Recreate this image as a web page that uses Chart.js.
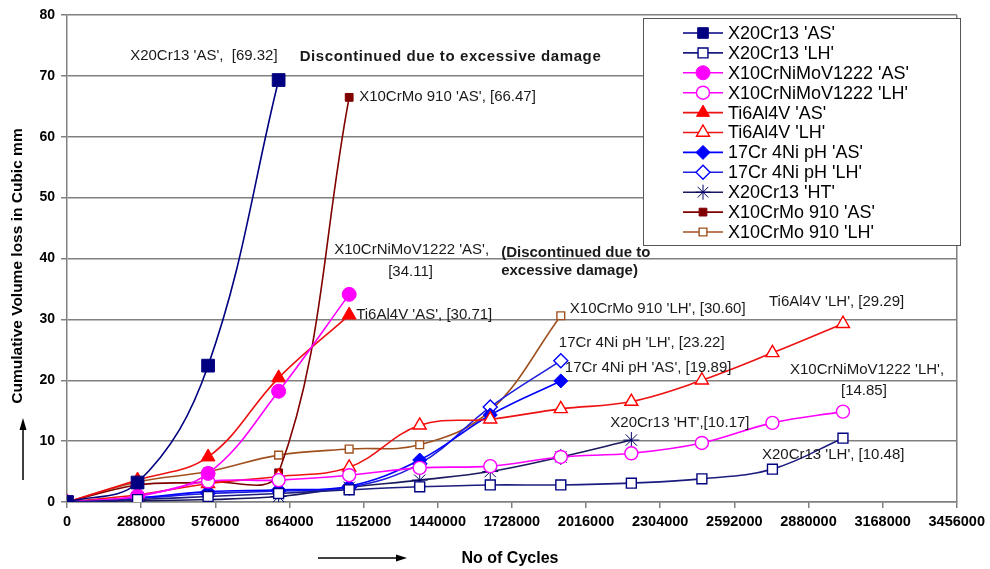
<!DOCTYPE html>
<html>
<head>
<meta charset="utf-8">
<script src="https://cdn.jsdelivr.net/npm/chart.js@4.4.1/dist/chart.umd.min.js"></script>
<style>
  body { margin: 0; background: #fff; }
  .graphMain { width: 990px; height: 569px; }
</style>
</head>
<body>
<div class="graphMain"><canvas id="chart" width="990" height="569"></canvas></div>
<script>
// test cycles at each reading
const cycles = [0, 274000, 548000, 822000, 1096000, 1370000, 1644000, 1918000, 2192000, 2466000, 2740000, 3014000];

// cumulative volume loss, cubic mm
const x20AS = [0, 3.2, 22.4, 69.32];
const x20LH = [0, 0.4, 0.9, 1.4, 2.0, 2.5, 2.8, 2.8, 3.1, 3.8, 5.4, 10.48];
const nimoAS = [0, 1.0, 4.7, 18.2, 34.11];
const nimoLH = [0, 0.9, 3.4, 3.6, 4.4, 5.6, 5.9, 7.4, 8.0, 9.7, 13.0, 14.85];
const tiAS = [0, 3.6, 7.4, 20.4, 30.71];
const tiLH = [0, 1.2, 3.0, 4.2, 5.7, 12.6, 13.6, 15.3, 16.5, 20.0, 24.5, 29.29];
const cr17AS = [0, 0.7, 1.7, 2.0, 2.6, 6.9, 14.3, 19.89];
const cr17LH = [0, 0.6, 1.4, 1.8, 2.4, 6.3, 15.6, 23.22];
const x20HT = [0, 0.2, 0.4, 0.9, 2.4, 3.6, 5.0, 7.4, 10.17];
const moAS = [0, 2.8, 3.3, 4.8, 66.47];
const moLH = [0, 3.3, 5.0, 7.7, 8.7, 9.4, 15.0, 30.60];

const seriesNames = ["X20Cr13 'AS'", "X20Cr13 'LH'", "X10CrNiMoV1222 'AS'", "X10CrNiMoV1222 'LH'",
  "Ti6Al4V 'AS'", "Ti6Al4V 'LH'", "17Cr 4Ni pH 'AS'", "17Cr 4Ni pH 'LH'", "X20Cr13 'HT'",
  "X10CrMo 910 'AS'", "X10CrMo 910 'LH'"];

const xTickStep = 288000;
const xMax = 3456000;
const yMax = 80;

// end-of-test labels: [series index, lines]
const endLabels = [
  [0, ["X20Cr13 'AS',  [69.32]"]],
  [9, ["X10CrMo 910 'AS', [66.47]"]],
  [2, ["X10CrNiMoV1222 'AS',", "[34.11]"]],
  [4, ["Ti6Al4V 'AS', [30.71]"]],
  [10, ["X10CrMo 910 'LH', [30.60]"]],
  [7, ["17Cr 4Ni pH 'LH', [23.22]"]],
  [6, ["17Cr 4Ni pH 'AS', [19.89]"]],
  [5, ["Ti6Al4V 'LH', [29.29]"]],
  [3, ["X10CrNiMoV1222 'LH',", "[14.85]"]],
  [8, ["X20Cr13 'HT',[10.17]"]],
  [1, ["X20Cr13 'LH', [10.48]"]],
];
const noteTop = "Discontinued due to excessive damage";
const noteMid = ["(Discontinued due to", "excessive damage)"];

// label offsets from the last point of each series (px)
const labelOffsets = {
  0: [[-1, -24, 'right']],
  9: [[10, -1, 'left']],
  2: [[-15, -44, 'left'], [39, -22, 'left']],
  4: [[7, 0, 'left']],
  10: [[9, -7, 'left']],
  7: [[-2, -18, 'left']],
  6: [[4, -13, 'left']],
  5: [[-74, -22, 'left']],
  3: [[-53, -42, 'left'], [-2, -21, 'left']],
  8: [[-21, -17, 'left']],
  1: [[-81, 17, 'left']],
};

const toPoints = (vals) => vals.map((v, i) => ({ x: cycles[i], y: v }));

const styles = [
  { color: '#000080', line: '#000080', fill: '#000080', style: 'rect', r: 9 },
  { color: '#000080', line: '#1c1c80', fill: '#ffffff', style: 'rect', r: 7 },
  { color: '#ff00ff', line: '#ff00ff', fill: '#ff00ff', style: 'circle', r: 7 },
  { color: '#ff00ff', line: '#ff00ff', fill: '#ffffff', style: 'circle', r: 6.5 },
  { color: '#ff0000', line: '#ee1111', fill: '#ff0000', style: 'triangle', r: 8 },
  { color: '#ff0000', line: '#ee1111', fill: '#ffffff', style: 'triangle', r: 7.5 },
  { color: '#0000ff', line: '#0000ff', fill: '#0000ff', style: 'rectRot', r: 7 },
  { color: '#0000ff', line: '#1f1fe0', fill: '#ffffff', style: 'rectRot', r: 7 },
  { color: '#000066', line: '#1a1a5e', fill: '#000066', style: 'star', r: 8 },
  { color: '#800000', line: '#800000', fill: '#800000', style: 'rect', r: 5.5 },
  { color: '#a0501e', line: '#a0501e', fill: '#ffffff', style: 'rect', r: 5.5 },
];

const allSeries = [x20AS, x20LH, nimoAS, nimoLH, tiAS, tiLH, cr17AS, cr17LH, x20HT, moAS, moLH];

const datasets = allSeries.map((vals, i) => ({
  label: seriesNames[i],
  data: toPoints(vals),
  borderColor: styles[i].line,
  borderWidth: 1.6,
  tension: 0.38,
  pointStyle: styles[i].style,
  pointRadius: styles[i].r,
  pointBackgroundColor: styles[i].fill,
  pointBorderColor: styles[i].color,
  pointBorderWidth: styles[i].fill === '#ffffff' ? 1.4 : 1,
  fill: false,
}));

const font = '"Liberation Sans", Arial, sans-serif';

const extras = {
  id: 'extras',
  afterDatasetsDraw(chart) {
    const ctx = chart.ctx;
    const area = chart.chartArea;
    ctx.save();
    // right border of plot
    ctx.strokeStyle = '#808080';
    ctx.lineWidth = 1.5;
    ctx.beginPath();
    ctx.moveTo(area.right, area.top);
    ctx.lineTo(area.right, area.bottom);
    ctx.stroke();

    // end labels
    ctx.fillStyle = '#1a1a1a';
    ctx.textBaseline = 'middle';
    ctx.font = '15px ' + font;
    endLabels.forEach(([ds, lines]) => {
      const pts = chart.getDatasetMeta(ds).data;
      const last = pts[pts.length - 1];
      lines.forEach((t, k) => {
        const [dx, dy, al] = labelOffsets[ds][k];
        ctx.textAlign = al;
        ctx.fillText(t, last.x + dx, last.y + dy);
      });
    });

    // notes
    ctx.textAlign = 'left';
    ctx.font = 'bold 15px ' + font;
    const p0 = chart.getDatasetMeta(0).data[x20AS.length - 1];
    ctx.letterSpacing = '0.6px';
    ctx.fillText(noteTop, p0.x + 21, p0.y - 23);
    ctx.letterSpacing = '0px';
    const p2 = chart.getDatasetMeta(2).data[nimoAS.length - 1];
    ctx.fillText(noteMid[0], p2.x + 152, p2.y - 41);
    ctx.fillText(noteMid[1], p2.x + 152, p2.y - 23);

    // legend
    const lx = 643, ly = 18, lw = 317, lh = 227;
    ctx.fillStyle = '#fff';
    ctx.fillRect(lx, ly, lw, lh);
    ctx.strokeStyle = '#555';
    ctx.lineWidth = 1;
    ctx.strokeRect(lx + 0.5, ly + 0.5, lw, lh);
    ctx.font = '18px ' + font;
    ctx.textAlign = 'left';
    chart.data.datasets.forEach((d, i) => {
      const y = ly + 15 + i * 19.9;
      ctx.strokeStyle = d.borderColor;
      ctx.lineWidth = 1.6;
      ctx.beginPath();
      ctx.moveTo(lx + 40, y);
      ctx.lineTo(lx + 80, y);
      ctx.stroke();
      ctx.fillStyle = d.pointBackgroundColor;
      ctx.strokeStyle = d.pointBorderColor;
      ctx.lineWidth = d.pointBorderWidth;
      Chart.helpers.drawPoint(ctx, {
        pointStyle: d.pointStyle, radius: Math.min(d.pointRadius, 7.5), rotation: 0, borderWidth: d.pointBorderWidth,
      }, lx + 60, y);
      ctx.fillStyle = '#000';
      ctx.fillText(d.label, lx + 85, y + 1);
    });

    // axis titles and arrows
    ctx.fillStyle = '#000';
    ctx.strokeStyle = '#000';
    ctx.font = 'bold 15.5px ' + font;
    ctx.save();
    ctx.translate(18, 266);
    ctx.rotate(-Math.PI / 2);
    ctx.textAlign = 'center';
    ctx.fillText('Cumulative Volume loss in Cubic mm', 0, 0);
    ctx.restore();

    ctx.font = 'bold 16px ' + font;
    ctx.textAlign = 'center';
    ctx.fillText('No of Cycles', 510, 559);

    ctx.lineWidth = 1.5;
    ctx.beginPath();
    ctx.moveTo(23, 480);
    ctx.lineTo(23, 428);
    ctx.stroke();
    ctx.beginPath();
    ctx.moveTo(23, 418); ctx.lineTo(19.5, 430); ctx.lineTo(26.5, 430); ctx.closePath();
    ctx.fill();

    ctx.beginPath();
    ctx.moveTo(318, 558);
    ctx.lineTo(398, 558);
    ctx.stroke();
    ctx.beginPath();
    ctx.moveTo(407, 558); ctx.lineTo(396, 554.5); ctx.lineTo(396, 561.5); ctx.closePath();
    ctx.fill();
    ctx.restore();
  },
};

new Chart(document.getElementById('chart'), {
  type: 'line',
  data: { datasets },
  options: {
    responsive: false,
    animation: false,
    layout: { padding: { top: 15, right: 32, left: 0, bottom: 0 } },
    plugins: { legend: { display: false }, tooltip: { enabled: false } },
    scales: {
      x: {
        type: 'linear',
        min: 0,
        max: xMax,
        afterFit: (s) => { s.height = 67; },
        ticks: {
          stepSize: xTickStep,
          autoSkip: false,
          maxRotation: 0,
          padding: 5,
          color: '#000',
          font: { family: font, size: 14.5, weight: 'bold' },
          callback: (v) => String(v),
        },
        grid: { drawOnChartArea: false, tickLength: 6, color: '#808080', lineWidth: 1.5 },
        border: { color: '#808080', width: 1.5 },
      },
      y: {
        min: 0,
        max: yMax,
        afterFit: (s) => { s.width = 67; },
        ticks: {
          stepSize: 10,
          padding: 6,
          color: '#000',
          font: { family: font, size: 14, weight: 'bold' },
        },
        grid: { color: '#808080', lineWidth: 1.5, tickLength: 6 },
        border: { color: '#808080', width: 1.5 },
      },
    },
  },
  plugins: [extras],
});
</script>
</body>
</html>
